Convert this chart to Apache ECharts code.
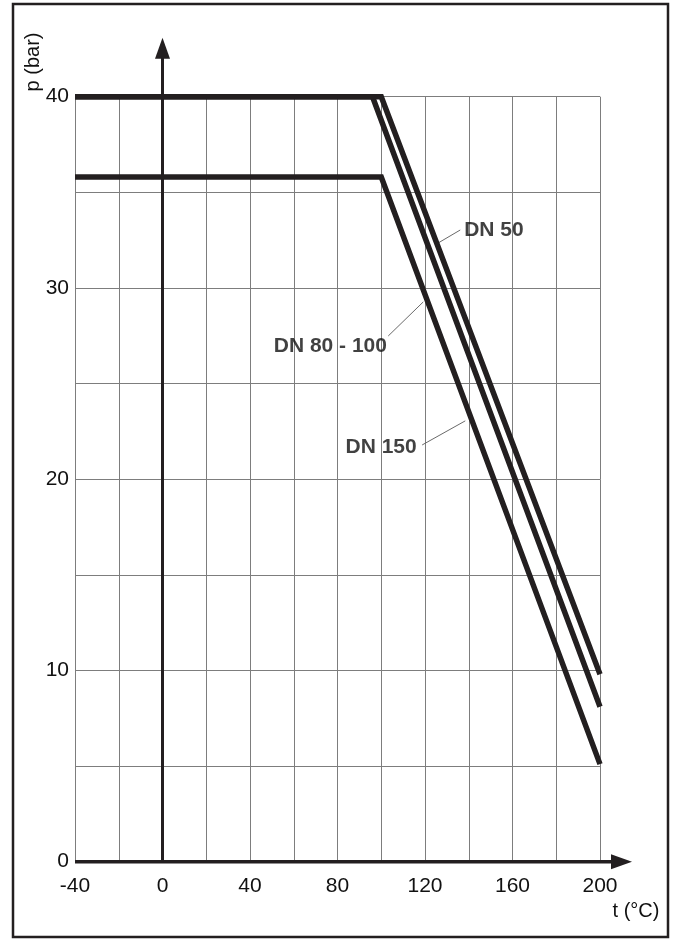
<!DOCTYPE html>
<html>
<head>
<meta charset="utf-8">
<script src="https://cdn.jsdelivr.net/npm/echarts@6/dist/echarts.min.js"></script>
<style>
html,body{margin:0;padding:0;background:#fff;}
#chart{width:675px;height:941px;}
</style>
</head>
<body>
<div id="chart"></div>
<script>
// Data (temperature °C, pressure bar)
const dn50 = [[-40, 40], [100, 40], [200, 9.8]];
const dn80 = [[-40, 40], [96, 40], [200, 8.1]];
const dn150 = [[-40, 35.8], [100, 35.8], [200, 5.1]];

// Annotation leader lines (data coords)
const leader50 = [[126.0, 32.35], [136.1, 33.03]];
const leader80 = [[103.2, 27.49], [119.2, 29.27]];
const leader150 = [[118.7, 21.79], [138.4, 23.05]];

// Annotation labels: [x, y, text]
const labelsRight = [[137.9, 33.03, 'DN 50']];
const labelsLeft = [[102.6, 26.96, 'DN 80 - 100'], [116.2, 21.68, 'DN 150']];

const xMin = -40, xMax = 200, xStep = 20, xLabelStep = 40;
const yMin = 0, yMax = 40, yStep = 5, yLabelStep = 10;

const INK = '#231f20';
const TXT = '#111';
const GRID = '#7d7d7d';
const FONT = '"Liberation Sans", Arial, sans-serif';

const chart = echarts.init(document.getElementById('chart'), null, {renderer: 'canvas'});

const thick = (name, data) => ({
  name, type: 'line', data, symbol: 'none', z: 5,
  lineStyle: {color: INK, width: 5.5, cap: 'butt', join: 'miter'},
  animation: false
});
const leader = (data) => ({
  type: 'line', data, symbol: 'none', z: 4,
  lineStyle: {color: '#6a6a6a', width: 1},
  animation: false
});

chart.setOption({
  animation: false,
  backgroundColor: '#fff',
  grid: {left: 75, right: 75, top: 96.7, bottom: 79.3, containLabel: false},
  xAxis: {
    type: 'value', min: xMin, max: xMax, interval: xStep,
    axisLine: {show: false}, axisTick: {show: false},
    axisLabel: {
      color: TXT, fontFamily: FONT, fontSize: 21, margin: 14,
      formatter: v => (v % xLabelStep === 0 ? String(v) : '')
    },
    splitLine: {show: true, lineStyle: {color: GRID, width: 1}}
  },
  yAxis: {
    type: 'value', min: yMin, max: yMax, interval: yStep,
    axisLine: {show: false}, axisTick: {show: false},
    axisLabel: {
      color: TXT, fontFamily: FONT, fontSize: 21, margin: 6,
      padding: [6, 0, 0, 0],
      formatter: v => (v % yLabelStep === 0 ? String(v) : '')
    },
    splitLine: {show: true, lineStyle: {color: GRID, width: 1}}
  },
  series: [
    thick('DN 150', dn150),
    thick('DN 80 - 100', dn80),
    thick('DN 50', dn50),
    leader(leader50),
    leader(leader80),
    leader(leader150),
    {
      type: 'scatter', symbolSize: 0, z: 6,
      data: labelsRight.map(d => ({value: [d[0], d[1]], name: d[2]})),
      label: {show: true, position: 'right', distance: 0, formatter: p => p.name,
        color: TXT, fontFamily: FONT, fontWeight: 'bold', fontSize: 21},
      silent: true
    },
    {
      type: 'scatter', symbolSize: 0, z: 6,
      data: labelsLeft.map(d => ({value: [d[0], d[1]], name: d[2]})),
      label: {show: true, position: 'left', distance: 0, formatter: p => p.name,
        color: TXT, fontFamily: FONT, fontWeight: 'bold', fontSize: 21},
      silent: true
    }
  ]
});

// Axes through the origin with arrow heads, frame and axis names
const o = chart.convertToPixel({gridIndex: 0}, [0, 0]);
const xs = chart.convertToPixel({gridIndex: 0}, [xMin, 0]);
const xe = chart.convertToPixel({gridIndex: 0}, [xMax, 0]);
const ye = chart.convertToPixel({gridIndex: 0}, [0, yMax]);
const xTip = xe[0] + 32, yTip = ye[1] - 59;

chart.setOption({
  graphic: [
    {type: 'rect', shape: {x: 13, y: 4, width: 655, height: 933},
      style: {fill: null, stroke: INK, lineWidth: 2.5}, z: 10, silent: true},
    {type: 'line', shape: {x1: xs[0], y1: o[1], x2: xTip - 14, y2: o[1]},
      style: {stroke: INK, lineWidth: 3.5}, z: 3, silent: true},
    {type: 'polygon', shape: {points: [[xTip, o[1]], [xTip - 21, o[1] - 7.5], [xTip - 21, o[1] + 7.5]]},
      style: {fill: INK}, z: 3, silent: true},
    {type: 'line', shape: {x1: o[0], y1: o[1], x2: o[0], y2: yTip + 14},
      style: {stroke: INK, lineWidth: 3}, z: 3, silent: true},
    {type: 'polygon', shape: {points: [[o[0], yTip], [o[0] - 7.5, yTip + 21], [o[0] + 7.5, yTip + 21]]},
      style: {fill: INK}, z: 3, silent: true},
    {type: 'text', x: 636, y: 911, z: 10, silent: true,
      style: {text: 't (°C)', fill: TXT, fontSize: 20, fontFamily: FONT, align: 'center', verticalAlign: 'middle'}},
    {type: 'text', x: 33, y: 62, rotation: Math.PI / 2, z: 10, silent: true,
      style: {text: 'p (bar)', fill: TXT, fontSize: 20, fontFamily: FONT, align: 'center', verticalAlign: 'middle'}}
  ]
});
</script>
</body>
</html>
